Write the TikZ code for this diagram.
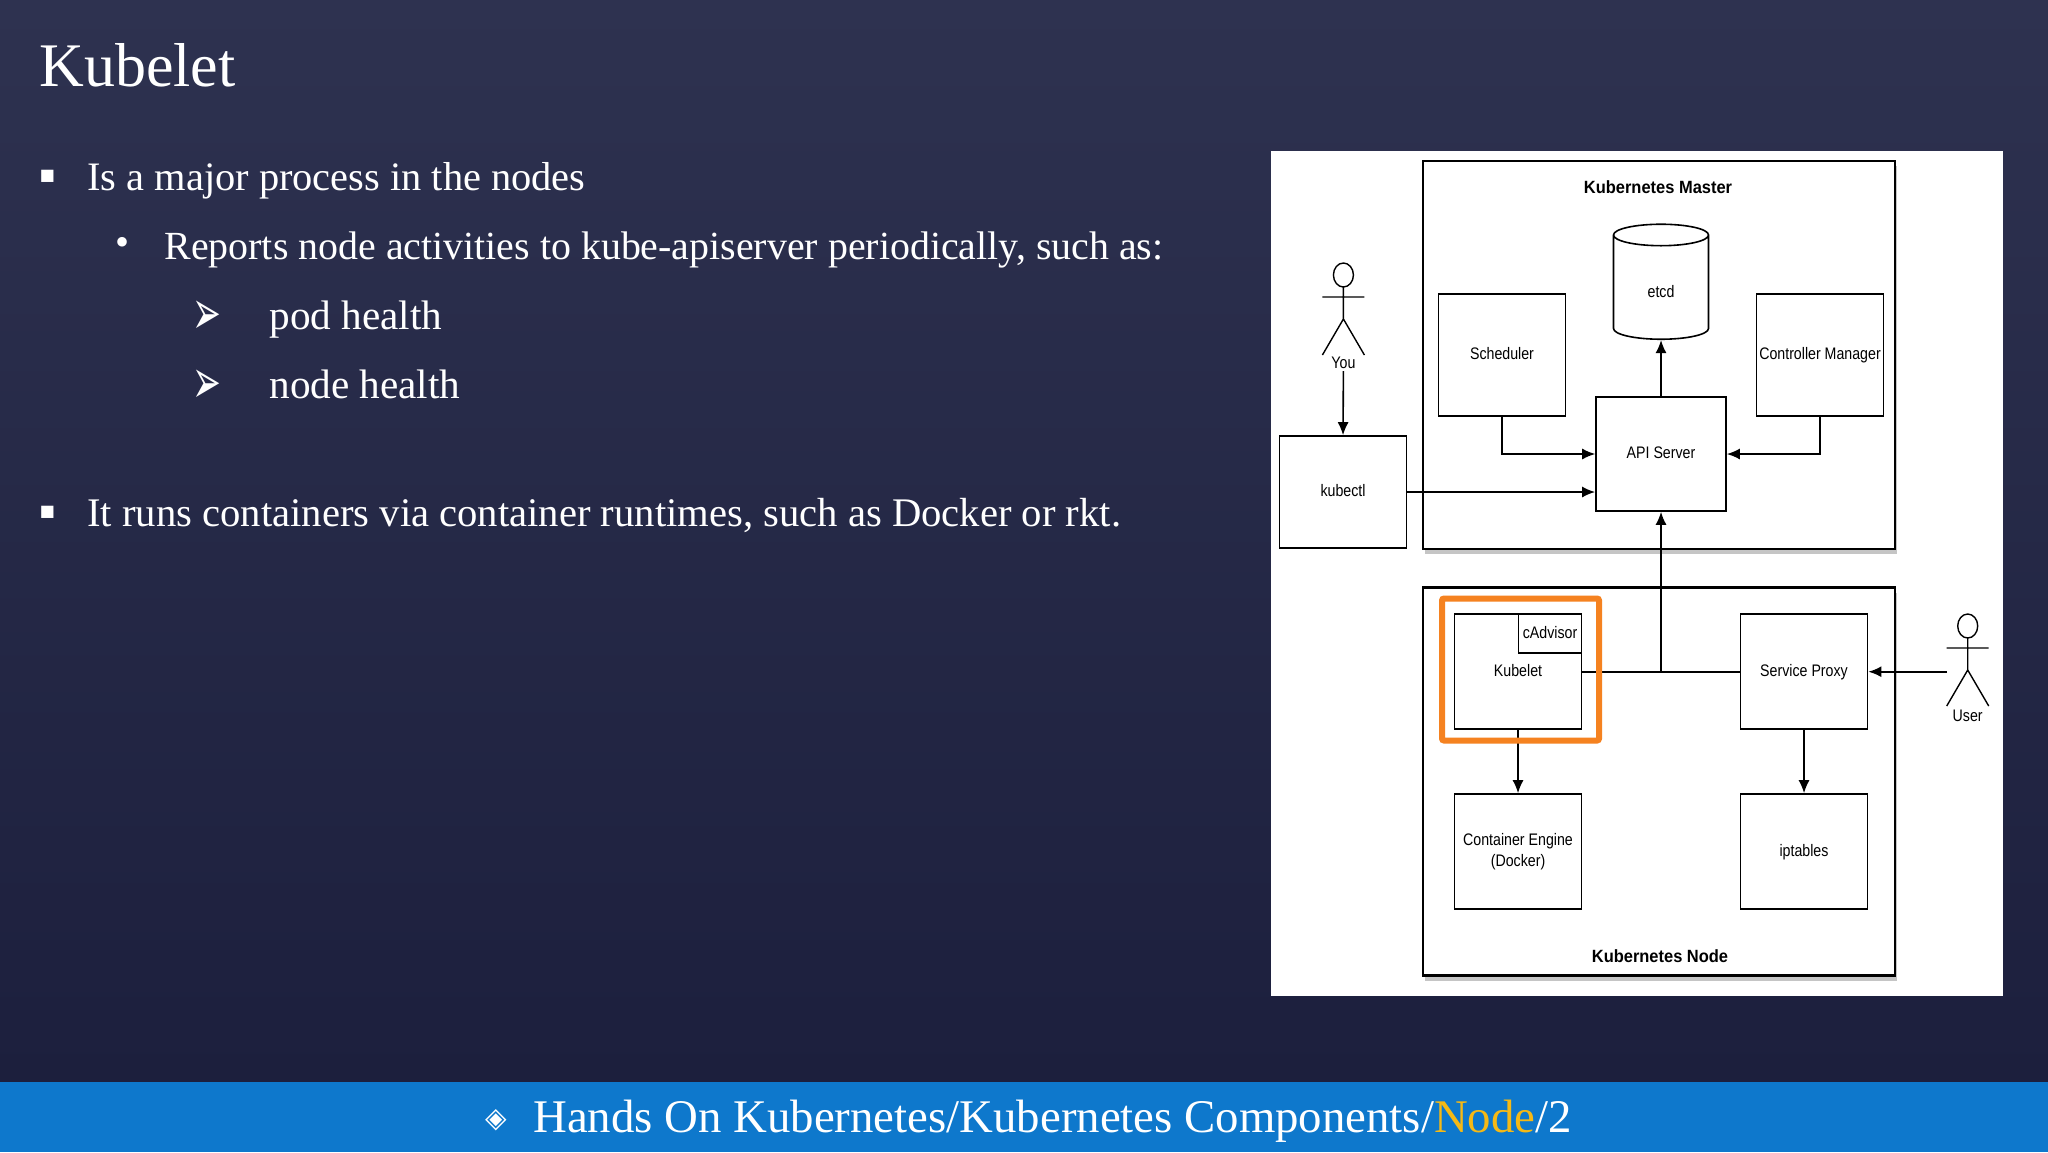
\documentclass[tikz,border=0pt]{standalone}
\usepackage{fontspec}
\setmainfont{Liberation Serif}
\newfontfamily\kyhieu{DejaVu Sans}
\newfontfamily\hopfont[FakeStretch=0.85]{Liberation Sans}
\newfontfamily\tuaFont[FakeStretch=0.93]{Liberation Sans Bold}
\usetikzlibrary{shapes.geometric,shadows,arrows.meta}
\definecolor{nentren}{HTML}{2E3250}
\definecolor{nenduoi}{HTML}{1C1F3D}
\definecolor{thanh}{HTML}{0E78CC}
\definecolor{vang}{HTML}{F5B915}
\definecolor{cam}{HTML}{F58220}
\begin{document}
\begin{tikzpicture}[x=.5pt,y=-.5pt]
	\tikzset{
		every node/.style={inner sep=0pt},
		% chu ben trai
		dong/.style={anchor=base west,text=white,font=\fontsize{20.2}{24}\selectfont},
		dau/.style={anchor=center,text=white},
		% khung trong so do
		hop/.style={draw=black,fill=white,line width=.8pt,align=center,font=\hopfont\fontsize{8.35}{10.5}\selectfont},
		mot/.style={text height=6pt,text depth=1.3pt},
		boxsize/.style 2 args={minimum width=#1*.5pt,minimum height=#2*.5pt},
		cum/.style={draw=black,line width=1.1pt,fill=white,drop shadow={shadow xshift=1pt,shadow yshift=-2.5pt,opacity=.45,fill=gray}},
		tua/.style={font=\tuaFont\fontsize{8.85}{10}\selectfont},
		nhan/.style={font=\hopfont\fontsize{8.35}{10}\selectfont,inner sep=1pt},
		noi/.style={line width=.8pt,>={Latex[length=6.5pt,width=5.5pt]}},
		% nguoi
		nguoi/.pic={\draw[line width=.7pt] (0,12)circle[x radius=10,y radius=12] (0,24)--(0,56) (-21,34)--(21,34) (-21,92)--(0,56)--(21,92);},
	}
	% nen
	\useasboundingbox (0,0) rectangle (2048,1152);
	\shade[top color=nentren,bottom color=nenduoi] (0,0) rectangle (2048,1082);
	\fill[thanh] (0,1082) rectangle (2048,1152);
	%
	\node[anchor=base west,text=white,font=\fontsize{31}{36}\selectfont] (tieude) at (39,86) {Kubelet};
	\node[dau,font=\kyhieu\fontsize{8}{8}\selectfont] (d1) at (47.5,176) {■};
	\node[dong] (t1) at (87,190) {Is a major process in the nodes};
	\node[dau,font=\fontsize{20}{20}\selectfont] (d2) at (122,246) {•};
	\node[dong,font=\fontsize{19.95}{24}\selectfont] (t2) at (164,259) {Reports node activities to kube-apiserver periodically, such as:};
	\node[dau,font=\kyhieu\fontsize{15}{15}\selectfont] (d3) at (207,318) {\scalebox{1.15}[2.1]{➢}};
	\node[dong,font=\fontsize{20.6}{24}\selectfont] (t3) at (269,329) {pod health};
	\node[dau,font=\kyhieu\fontsize{15}{15}\selectfont] (d4) at (207,387) {\scalebox{1.15}[2.1]{➢}};
	\node[dong,font=\fontsize{20.6}{24}\selectfont] (t4) at (269,398) {node health};
	\node[dau,font=\kyhieu\fontsize{8}{8}\selectfont] (d5) at (47.5,512) {■};
	\node[dong,font=\fontsize{20.32}{24}\selectfont] (t5) at (87,526) {It runs containers via container runtimes, such as Docker or rkt.};
	%
	\node[dau,font=\kyhieu\fontsize{14}{14}\selectfont] (d6) at (496,1120) {◈};
	\node[anchor=base west,text=white,font=\fontsize{23.4}{26}\selectfont] (chantrang) at (533,1132) {Hands On Kubernetes/Kubernetes Components/\textcolor{vang}{Node}/2};
	% so do
	\fill[white] (1271,150.5) rectangle (2003,996);
	\node[cum,boxsize={472}{388}] (master) at (1659,355) {};
	\node[cum,boxsize={472}{388}] (nodecum) at (1659,781.5) {};
	\node[tua] (tuamaster) at (1658,187) {Kubernetes Master};
	\node[tua] (tuanode) at (1660,956) {Kubernetes Node};
	%
	\node[hop,mot,boxsize={127}{122}] (sched) at (1502,355) {Scheduler};
	\node[hop,mot,boxsize={127}{122}] (ctrl) at (1820,355) {Controller Manager};
	\node[hop,mot,boxsize={130}{114}] (api) at (1661,454) {API Server};
	\node[hop,mot,boxsize={127}{112}] (kubectl) at (1343,492) {kubectl};
	\node[hop,cylinder,shape border rotate=90,aspect=.8,text height=10pt,text depth=0pt,boxsize={95}{115}] (etcd) at (1661,287.5) {etcd};
	%
	\node[hop,mot,boxsize={127}{115}] (kubelet) at (1518,671.7) {Kubelet};
	\node[hop,mot,boxsize={63}{39},anchor=north east] (cadvisor) at (kubelet.north east) {cAdvisor};
	\node[hop,mot,boxsize={127}{115}] (svc) at (1804,671.7) {Service Proxy};
	\node[hop,boxsize={127}{115}] (engine) at (1518,851.5) {Container Engine\\(Docker)};
	\node[hop,mot,boxsize={127}{115}] (iptables) at (1804,851.5) {iptables};
	%
	\draw (1343.4,263)pic{nguoi} (1967.7,614)pic{nguoi};
	\node[nhan] (younhan) at (1343.4,363) {You};
	\node[nhan] (usernhan) at (1967.7,716) {User};
	\coordinate (tayuser) at (1947,671.7);
	%
	\coordinate (junc) at (api.south |- kubelet.east);
	\draw[noi,->] (younhan.south)--(kubectl.north);
	\draw[noi,->] (sched.south)|-(api.west);
	\draw[noi,->] (ctrl.south)|-(api.east);
	\draw[noi,->,line width=1pt] (kubectl.east)--(kubectl.east -| api.west);
	\draw[noi,->] (api.north)--(etcd.south);
	\draw[noi,->] (junc)--(api.south);
	\draw[noi] (kubelet.east)--(svc.west);
	\draw[noi,->,line width=1pt] (tayuser)--(svc.east);
	\draw[noi,->] (kubelet.south)--(engine.north);
	\draw[noi,->] (svc.south)--(iptables.north);
	% vien cam
	\node[draw=cam,line width=3pt,rounded corners=1pt,boxsize={157}{142}] (vien) at (1520.5,669.5) {};
\end{tikzpicture}
\end{document}
